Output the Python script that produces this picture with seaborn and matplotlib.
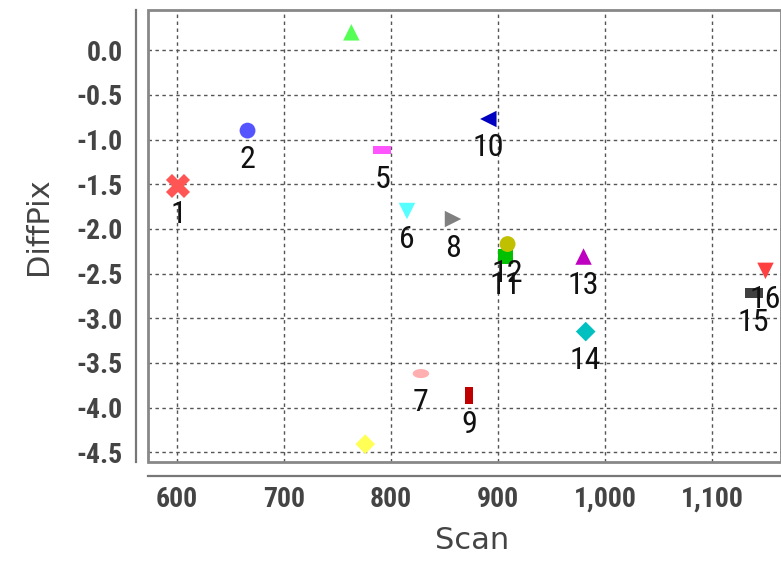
import numpy as np
import pandas as pd
import matplotlib
matplotlib.use("Agg")
import matplotlib.pyplot as plt
import matplotlib.ticker as mticker
from matplotlib.patches import Rectangle
from matplotlib import font_manager as fm
import seaborn as sns

# ---- data ----
point_ids = ["1", "2", "3", "4", "5", "6", "7", "8", "9", "10", "11", "12", "13", "14", "15", "16"]
scan = [601, 666, 763, 776, 792, 815, 828, 858, 873, 891, 907, 909, 980, 982, 1139, 1150]
diffpix = [-1.52, -0.90, 0.20, -4.41, -1.12, -1.80, -3.62, -1.89, -3.87, -0.77,
           -2.31, -2.17, -2.31, -3.15, -2.72, -2.47]
show_label = [True, True, False, False, True, True, True, True, True, True,
              True, True, True, True, True, True]
colors = ["#FF5555", "#5555FF", "#55FF55", "#FFFF55", "#FF55FF", "#55FFFF", "#FFAFAF", "#808080",
          "#C00000", "#0000C0", "#00C000", "#C0C000", "#C000C0", "#00C0C0", "#404040", "#FF4040"]

x_ticks = [600, 700, 800, 900, 1000, 1100]
y_ticks = [0.0, -0.5, -1.0, -1.5, -2.0, -2.5, -3.0, -3.5, -4.0, -4.5]

# pick an installed condensed family
installed = {f.name for f in fm.fontManager.ttflist}
narrow = [n for n in ["Roboto Condensed", "Liberation Sans Narrow", "PT Sans Narrow",
                      "Archivo Narrow", "Asap Condensed", "Encode Sans Condensed",
                      "Open Sans Condensed"] if n in installed]
narrow_family = (narrow[:1] + ["DejaVu Sans"]) if narrow else ["DejaVu Sans"]
has_narrow = bool(narrow)

# marker shapes (JFreeChart-like sequence)
def rect(w, h):
    return [(-w, -h), (w, -h), (w, h), (-w, h), (-w, -h)]

t = np.linspace(0, 2 * np.pi, 40)
ellipse = list(zip(np.cos(t), 0.55 * np.sin(t)))
shapes = ["X", "o", "^", "D", rect(1, 0.45), "v", ellipse, ">", rect(0.5, 1), "<",
          "s", "o", "^", "D", rect(1, 0.55), "v"]
areas = [300, 130, 140, 100, 170, 140, 140, 140, 150, 140,
         120, 130, 140, 100, 170, 140]

df = pd.DataFrame({"Scan": scan, "DiffPix": diffpix, "id": point_ids})

plt.rcParams["axes.unicode_minus"] = False
sns.set_style("white")
plt.rcParams["font.family"] = ["DejaVu Sans"]

fig = plt.figure(figsize=(7.81, 5.66), dpi=100)
ax = fig.add_axes([148 / 781, 1 - 462 / 566, (781 - 148) / 781, (462 - 10) / 566])

sns.scatterplot(data=df, x="Scan", y="DiffPix", hue="id", style="id", size="id",
                palette=dict(zip(point_ids, colors)),
                markers=dict(zip(point_ids, shapes)),
                sizes=dict(zip(point_ids, areas)),
                linewidth=0, legend=False, ax=ax, zorder=3)

lab_size = 23 if has_narrow else 18
for xi, yi, lab, sh in zip(scan, diffpix, point_ids, show_label):
    if sh:
        ax.annotate(lab, (xi, yi), xytext=(0, -29), textcoords="offset pixels",
                    ha="center", va="center", fontsize=lab_size, color="#111111",
                    family=narrow_family, zorder=4, annotation_clip=False)

ax.set_xlim(573, 1164.5)
ax.set_ylim(-4.61, 0.45)
ax.set_xticks(x_ticks)
ax.set_yticks(y_ticks)
ax.xaxis.set_major_formatter(mticker.FuncFormatter(lambda v, p: f"{v:,.0f}"))
ax.yaxis.set_major_formatter(mticker.FuncFormatter(lambda v, p: f"{v:.1f}"))

ax.grid(True, color="#555555", linestyle=(0, (2.5, 2.5)), linewidth=1.0)
ax.set_axisbelow(True)

# axis lines offset from the plot outline
for side in ["top", "right"]:
    ax.spines[side].set_visible(False)
ax.spines["left"].set_position(("outward", 9))
ax.spines["bottom"].set_position(("outward", 10))
for side in ["left", "bottom"]:
    ax.spines[side].set_color("#777777")
    ax.spines[side].set_linewidth(1.6)

ax.add_patch(Rectangle((0, 0), 1, 1, transform=ax.transAxes, fill=False,
                       edgecolor="#888888", linewidth=2.0, zorder=5, clip_on=False))

tick_size = 20 if has_narrow else 16
ax.tick_params(axis="both", direction="out", length=5, width=1, color="#777777",
               labelsize=tick_size, labelcolor="#444444")
ax.tick_params(axis="y", pad=4)
ax.tick_params(axis="x", pad=2)
for lbl in ax.get_xticklabels() + ax.get_yticklabels():
    lbl.set_fontweight("bold")
    lbl.set_family(narrow_family)

ax.set_xlabel("Scan", fontsize=22, color="#444444")
ax.set_ylabel("DiffPix", fontsize=22, color="#444444")
ax.xaxis.set_label_coords(0.512, -0.142)
ax.yaxis.set_label_coords(-0.15, 0.522)

fig.savefig("out.png", dpi=100)
